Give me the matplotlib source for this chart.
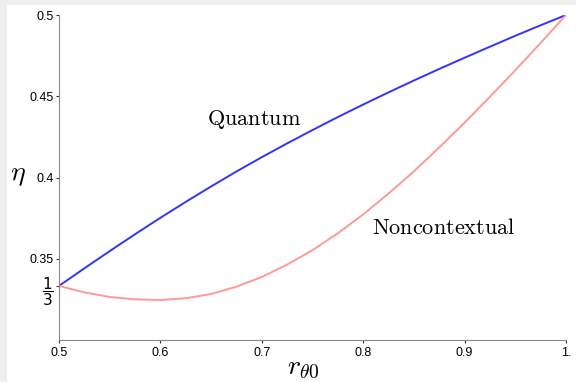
import numpy as np
import matplotlib.pyplot as plt
from matplotlib.patches import Rectangle

plt.rcParams['mathtext.fontset'] = 'cm'

# r_theta0 sample points and read-off curve values
r_vals = [0.5, 0.525, 0.55, 0.575, 0.6, 0.625, 0.65, 0.675, 0.7, 0.725, 0.75,
          0.775, 0.8, 0.825, 0.85, 0.875, 0.9, 0.925, 0.95, 0.975, 1.0]
quantum = [0.3333, 0.3441, 0.3547, 0.3651, 0.3752, 0.3850, 0.3945, 0.4037, 0.4125,
           0.4210, 0.4292, 0.4372, 0.4449, 0.4524, 0.4597, 0.4668, 0.4737, 0.4805,
           0.4872, 0.4937, 0.5]
noncontextual = [0.3333, 0.3293, 0.3265, 0.3250, 0.3246, 0.3257, 0.3283, 0.3328, 0.3388,
                 0.3464, 0.3553, 0.3657, 0.3773, 0.3901, 0.4038, 0.4185, 0.4338, 0.4497,
                 0.4660, 0.4828, 0.5]

xticks = [0.5, 0.6, 0.7, 0.8, 0.9, 1.0]
xticklabels = ['0.5', '0.6', '0.7', '0.8', '0.9', '1.']
yticks = [1 / 3, 0.35, 0.4, 0.45, 0.5]
yticklabels = [r'$\dfrac{1}{3}$', '0.35', '0.4', '0.45', '0.5']

fig = plt.figure(figsize=(5.76, 3.82), dpi=100, facecolor='#efefef')
fig.patches.append(Rectangle((7 / 576, 0), 1, 1 - 5 / 382, transform=fig.transFigure,
                             facecolor='white', edgecolor='none', zorder=-1))
ax = fig.add_axes([59 / 576, 1 - 340 / 382, (566 - 59) / 576, (340 - 15) / 382])
ax.set_facecolor('none')
ax.set_zorder(2)

ax.plot(r_vals, quantum, color='#3333ff', lw=1.4)
ax.plot(r_vals, noncontextual, color='#ff9999', lw=1.4)

ax.set_xlim(0.5, 1.0)
ax.set_ylim(0.3, 0.5)
for s in ['top', 'right']:
    ax.spines[s].set_visible(False)
for s in ['left', 'bottom']:
    ax.spines[s].set_color('#888888')
    ax.spines[s].set_linewidth(0.8)

ax.set_xticks(xticks)
ax.set_xticklabels(xticklabels, fontfamily='Liberation Sans', fontsize=9)
ax.set_yticks(yticks)
ax.set_yticklabels(yticklabels, fontfamily='Liberation Sans', fontsize=9)
frac = ax.get_yticklabels()[0]
frac.set_math_fontfamily('dejavusans')
frac.set_fontsize(11)
ax.tick_params(direction='out', length=2, width=0.8, color='#333333', pad=2)
ax.tick_params(axis='x', pad=3)

ax.text(0.692, 0.4358, r'$\mathrm{Quantum}$', fontsize=16, ha='center', va='center')
ax.text(0.879, 0.369, r'$\mathrm{Noncontextual}$', fontsize=16, ha='center', va='center')

fig.text(18 / 576, 1 - 174 / 382, r'$\eta$', fontsize=20, ha='center', va='center')
fig.text(303 / 576, 1 - 367 / 382, r'$r_{\theta 0}$', fontsize=20, ha='center', va='center')

fig.savefig('out.png', dpi=100, facecolor=fig.get_facecolor())
